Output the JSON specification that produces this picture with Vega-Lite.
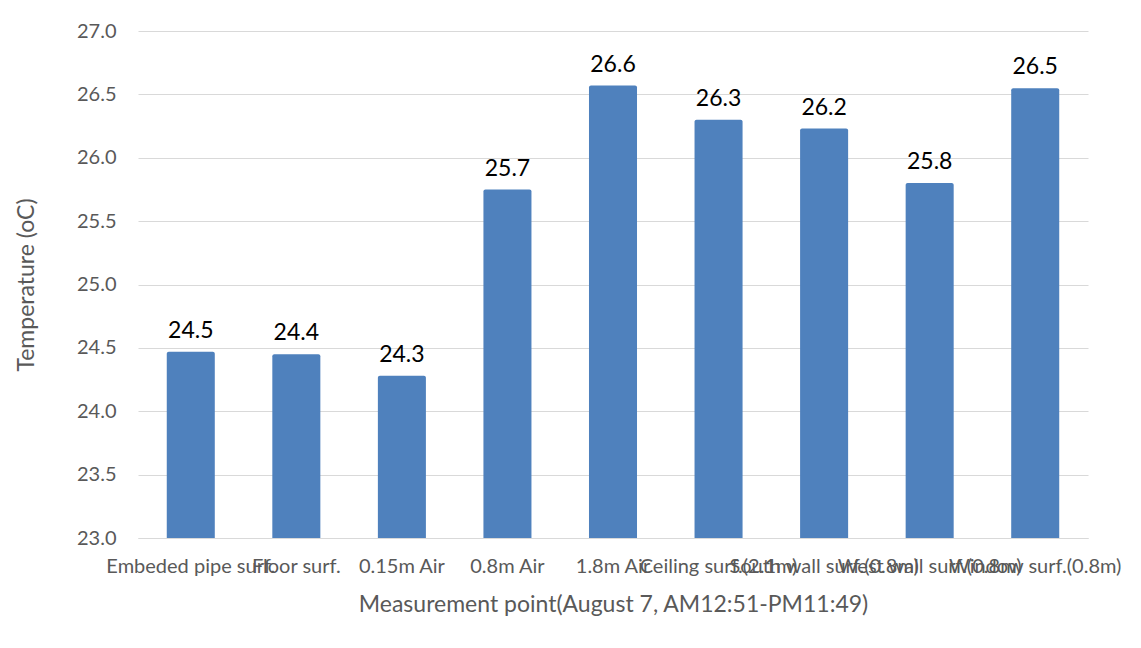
{
  "$schema": "https://vega.github.io/schema/vega-lite/v6.json",
  "autosize": {"type": "none"},
  "width": 950,
  "height": 507,
  "padding": {"left": 138, "top": 31, "right": 53, "bottom": 110},
  "background": "white",
  "data": {
    "values": [
      {"point": "Embeded pipe surf.", "temp": 24.47},
      {"point": "Floor surf.", "temp": 24.449},
      {"point": "0.15m Air", "temp": 24.28},
      {"point": "0.8m Air", "temp": 25.749},
      {"point": "1.8m Air", "temp": 26.57},
      {"point": "Ceiling surf.(2.1m)", "temp": 26.3},
      {"point": "South wall surf.(0.8m)", "temp": 26.23},
      {"point": "West wall surf.(0.8m)", "temp": 25.8},
      {"point": "Window surf.(0.8m)", "temp": 26.549}
    ]
  },
  "encoding": {
    "x": {
      "field": "point",
      "type": "nominal",
      "sort": null,
      "scale": {"paddingInner": 0.545, "paddingOuter": 0.2725},
      "axis": {
        "title": "Measurement point(August 7, AM12:51-PM11:49)",
        "titleFont": "Lato",
        "titleFontSize": 23,
        "titleFontWeight": "normal",
        "titleColor": "#595959",
        "titlePadding": 17,
        "labelAngle": 0,
        "labelFont": "Lato",
        "labelFontSize": 20,
        "labelColor": "#595959",
        "labelOverlap": false,
        "labelBound": false,
        "labelLimit": 0,
        "labelPadding": 18,
        "ticks": false,
        "domainColor": "#d9d9d9",
        "domainWidth": 1,
        "zindex": 1
      }
    },
    "y": {
      "field": "temp",
      "type": "quantitative",
      "scale": {"domain": [23, 27], "zero": false, "nice": false},
      "axis": {
        "title": "Temperature (oC)",
        "titleFont": "Lato",
        "titleFontSize": 23,
        "titleFontWeight": "normal",
        "titleColor": "#595959",
        "titlePadding": 38,
        "values": [23, 23.5, 24, 24.5, 25, 25.5, 26, 26.5, 27],
        "format": ".1f",
        "labelFont": "Lato",
        "labelFontSize": 20,
        "labelColor": "#595959",
        "labelPadding": 22,
        "ticks": false,
        "domain": false,
        "gridColor": "#d9d9d9",
        "gridWidth": 1
      }
    }
  },
  "layer": [
    {
      "mark": {"type": "bar", "color": "#4f81bd", "cornerRadiusTopLeft": 2, "cornerRadiusTopRight": 2},
      "encoding": {
        "y2": {"datum": 23}
      }
    },
    {
      "mark": {"type": "text", "baseline": "bottom", "dy": -9, "font": "Lato", "fontSize": 23, "color": "#000000"},
      "encoding": {
        "text": {"field": "temp", "type": "quantitative", "format": ".1f"}
      }
    }
  ],
  "config": {
    "view": {"stroke": null}
  }
}
